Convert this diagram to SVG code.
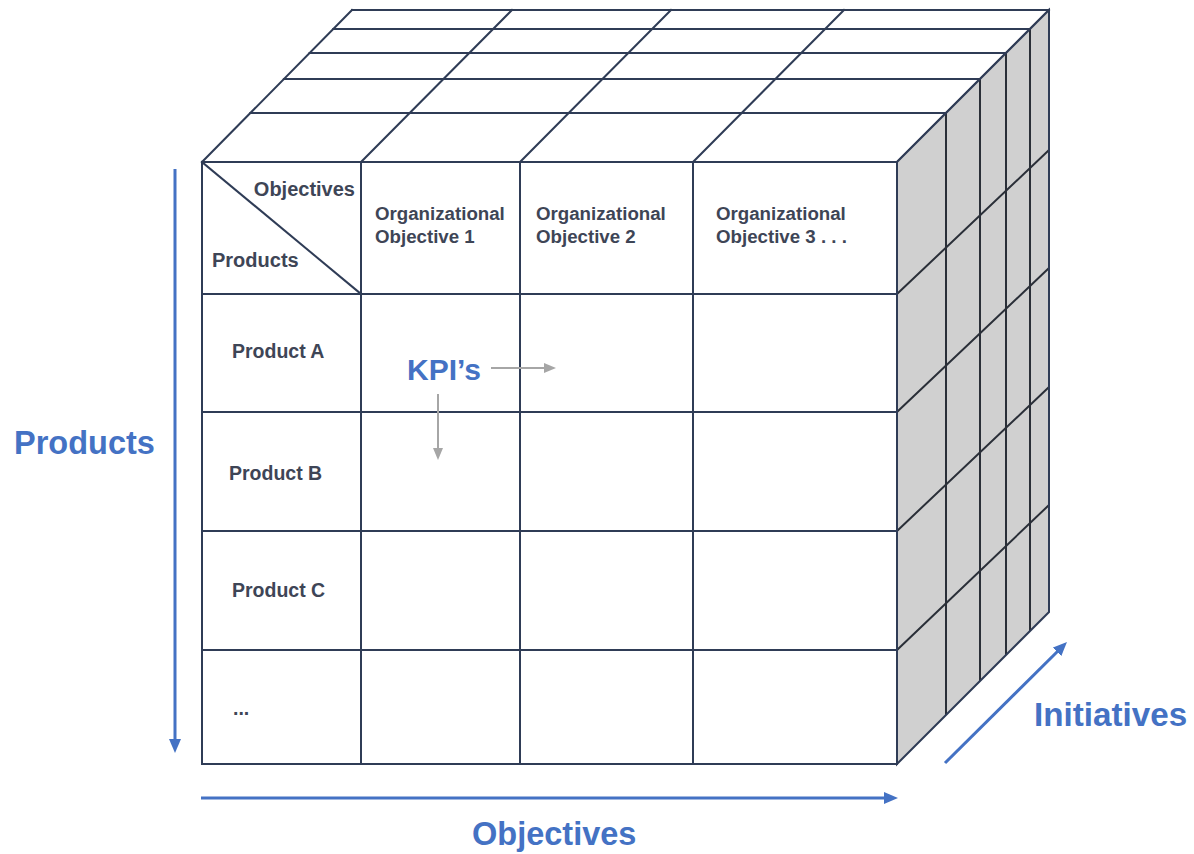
<svg xmlns="http://www.w3.org/2000/svg" width="1194" height="854" viewBox="0 0 1194 854">
  <style>
    .grid { stroke: #2f3c56; stroke-width: 2; fill: none; stroke-linecap: square; }
    .side { stroke: #2a2f38; stroke-width: 2; fill: none; }
    .cell { font-family: "Liberation Sans", Arial, sans-serif; font-weight: 700; fill: #3e4556; }
    .hdr { font-size: 20px; }
    .obj { font-size: 18.7px; }
    .row { font-size: 19.5px; }
    .axis { stroke: #4472c4; stroke-width: 3; fill: none; }
    .axis-label { font-family: "Liberation Sans", Arial, sans-serif; font-weight: 700; fill: #4472c4; font-size: 32.5px; }
    .kpi { font-size: 30px; }
    .wide { font-size: 33.2px; }
    .hint { stroke: #a6a6a6; stroke-width: 2; fill: none; }
  </style>
  <defs>
    <marker id="blueHead" markerUnits="userSpaceOnUse" markerWidth="14" markerHeight="14" viewBox="0 0 14 14" refX="7" refY="7" orient="auto">
      <path d="M0,1 L14,7 L0,13 Z" fill="#4472c4"/>
    </marker>
    <marker id="greyHead" markerUnits="userSpaceOnUse" markerWidth="12" markerHeight="12" viewBox="0 0 12 12" refX="6" refY="6" orient="auto">
      <path d="M0,1 L12,6 L0,11 Z" fill="#a6a6a6"/>
    </marker>
  </defs>
  <rect width="1194" height="854" fill="#ffffff"/>

  <!-- top face of the cube -->
  <g id="top-face">
    <polygon points="202,162 352,10 1049,10 897,162" fill="#ffffff"/>
    <path class="grid" d="M202,162 L897,162 M250.4,113 L946,113 M283.9,79 L980,79 M309.6,53 L1006,53 M333.3,29 L1030,29 M352,10 L1049,10"/>
    <path class="grid" d="M202,162 L352,10 M361,162 L512,10 M520,162 L671,10 M693,162 L844,10 M897,162 L1049,10"/>
  </g>

  <!-- right (initiatives) face -->
  <g id="side-face">
    <polygon points="897,162 1049,10 1049,612 897,764" fill="#d0d0d0"/>
    <path class="side" d="M946,113 L946,715 M980,79 L980,681 M1006,53 L1006,655 M1030,29 L1030,631"/>
    <path class="side" d="M897,294 L1049,150 M897,412 L1049,268 M897,531 L1049,387 M897,650 L1049,505"/>
    <path class="grid" d="M897,162 L1049,10 L1049,612 L897,764 Z"/>
  </g>

  <!-- front face: products x objectives table -->
  <g id="front-face">
    <rect x="202" y="162" width="695" height="602" fill="#ffffff"/>
    <path class="grid" d="M361,162 L361,764 M520,162 L520,764 M693,162 L693,764 M202,294 L897,294 M202,412 L897,412 M202,531 L897,531 M202,650 L897,650"/>
    <rect class="grid" x="202" y="162" width="695" height="602"/>
    <path class="grid" d="M202,162 L361,294"/>
  </g>

  <g id="header-corner">
    <text class="cell hdr" x="355" y="196" text-anchor="end">Objectives</text>
    <text class="cell hdr" x="212" y="267">Products</text>
  </g>
  <g id="objective-1">
    <text class="cell obj" x="375" y="220">Organizational</text>
    <text class="cell obj" x="375" y="243">Objective 1</text>
  </g>
  <g id="objective-2">
    <text class="cell obj" x="536" y="220">Organizational</text>
    <text class="cell obj" x="536" y="243">Objective 2</text>
  </g>
  <g id="objective-3">
    <text class="cell obj" x="716" y="220">Organizational</text>
    <text class="cell obj" x="716" y="243">Objective 3 . . .</text>
  </g>
  <g id="product-a"><text class="cell row" x="232" y="358">Product A</text></g>
  <g id="product-b"><text class="cell row" x="229" y="480">Product B</text></g>
  <g id="product-c"><text class="cell row" x="232" y="597">Product C</text></g>
  <g id="product-more"><text class="cell row" x="233" y="715">...</text></g>

  <g id="kpis">
    <text class="axis-label kpi" x="407" y="380">KPI’s</text>
  </g>

  <!-- axis labels -->
  <g id="axis-products"><text class="axis-label" x="14" y="454">Products</text></g>
  <g id="axis-objectives"><text class="axis-label" x="472" y="845">Objectives</text></g>
  <g id="axis-initiatives"><text class="axis-label wide" x="1034" y="726">Initiatives</text></g>

  <!-- connectors -->
  <g id="connectors">
    <line class="axis" x1="175" y1="169" x2="175" y2="746" marker-end="url(#blueHead)"/>
    <line class="axis" x1="201" y1="798" x2="891" y2="798" marker-end="url(#blueHead)"/>
    <line class="axis" x1="945" y1="763" x2="1062" y2="647" marker-end="url(#blueHead)"/>
    <line class="hint" x1="491" y1="368" x2="550" y2="368" marker-end="url(#greyHead)"/>
    <line class="hint" x1="438" y1="394" x2="438" y2="454" marker-end="url(#greyHead)"/>
  </g>
</svg>
